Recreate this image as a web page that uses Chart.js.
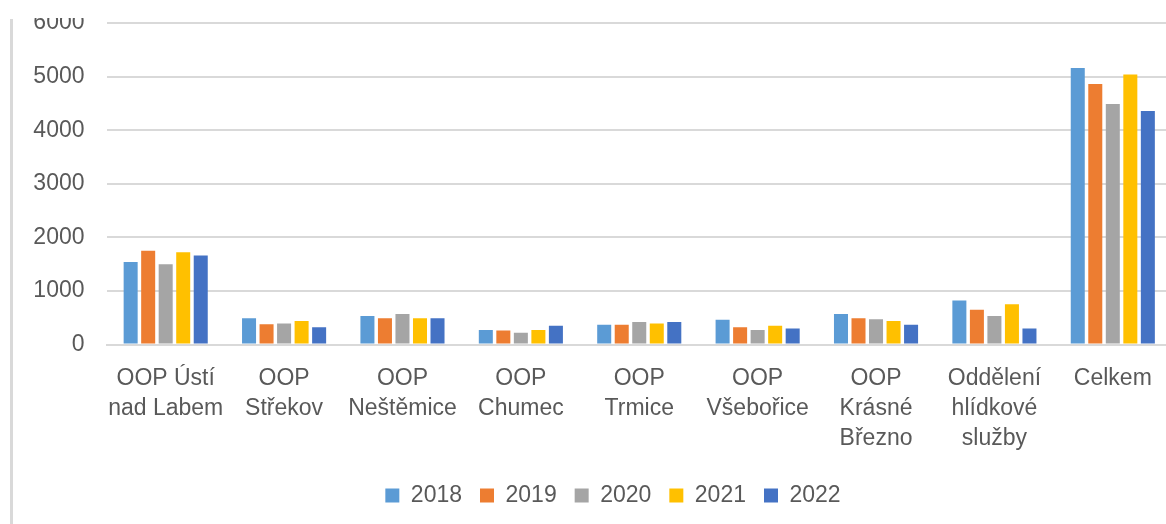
<!DOCTYPE html>
<html>
<head>
<meta charset="utf-8">
<script src="https://cdn.jsdelivr.net/npm/chart.js@4.4.1/dist/chart.umd.min.js"></script>
<style>
  html, body { margin: 0; padding: 0; background: #fff; width: 1166px; height: 524px; overflow: hidden; }
  #wrap { position: absolute; left: 0; top: 0; width: 1180px; height: 524px; }
  #border { position: absolute; left: 10px; top: 19px; width: 3px; height: 505px; background: #d9d9d9; }
</style>
</head>
<body>
<div id="wrap"><canvas id="c" width="1180" height="524"></canvas></div>
<div id="border"></div>
<script>
const categories = [
  ['OOP Ústí', 'nad Labem'],
  ['OOP', 'Střekov'],
  ['OOP', 'Neštěmice'],
  ['OOP', 'Chumec'],
  ['OOP', 'Trmice'],
  ['OOP', 'Všebořice'],
  ['OOP', 'Krásné', 'Březno'],
  ['Oddělení', 'hlídkové', 'služby'],
  ['Celkem']
];
const years = ['2018', '2019', '2020', '2021', '2022'];
const v2018 = [1540, 490, 530, 270, 370, 460, 570, 820, 5160];
const v2019 = [1750, 380, 490, 260, 370, 320, 490, 650, 4860];
const v2020 = [1500, 390, 570, 220, 420, 270, 470, 530, 4490];
const v2021 = [1720, 440, 490, 270, 390, 350, 440, 750, 5040];
const v2022 = [1660, 320, 490, 350, 420, 300, 370, 300, 4360];
const yTicks = [0, 1000, 2000, 3000, 4000, 5000, 6000];

const seriesValues = [v2018, v2019, v2020, v2021, v2022];
const colors = ['#5B9BD5', '#ED7D31', '#A5A5A5', '#FFC000', '#4472C4'];
const FONT = 'Liberation Sans, Arial, sans-serif';
const TXT = '#595959';

const tweaks = {
  id: 'tweaks',
  afterLayout(chart) {
    const lg = chart.legend;
    if (lg) { lg.left += 11; lg.right += 11; if (lg.adjustHitBoxes) lg.adjustHitBoxes(); }
  },
  afterDraw(chart) {
    const ctx = chart.ctx;
    ctx.save();
    ctx.fillStyle = '#fff';
    ctx.fillRect(0, 0, chart.width, 18);
    ctx.restore();
  }
};

new Chart(document.getElementById('c'), {
  type: 'bar',
  data: {
    labels: categories,
    datasets: years.map((y, i) => ({
      label: y,
      data: seriesValues[i],
      backgroundColor: colors[i],
      borderWidth: 0,
      categoryPercentage: 0.74,
      barPercentage: 0.8
    }))
  },
  options: {
    responsive: false,
    animation: false,
    devicePixelRatio: 1,
    layout: { padding: { left: 32, right: 8, top: 23, bottom: 7 } },
    plugins: {
      tooltip: { enabled: false },
      legend: {
        position: 'bottom',
        labels: {
          boxWidth: 14,
          boxHeight: 14,
          padding: 18,
          color: TXT,
          font: { family: FONT, size: 23 }
        }
      }
    },
    scales: {
      x: {
        grid: { display: false, drawTicks: false },
        border: { display: true, color: '#d9d9d9', width: 2 },
        ticks: {
          color: TXT,
          padding: 19,
          maxRotation: 0,
          autoSkip: false,
          font: { family: FONT, size: 23, lineHeight: 1.3 }
        },
        afterFit(axis) { axis.paddingLeft = 0; axis.paddingRight = 0; axis.height = 121.5; }
      },
      y: {
        min: 0,
        max: 6000,
        afterBuildTicks(axis) { axis.ticks = yTicks.map(v => ({ value: v })); },
        grid: { color: '#d9d9d9', lineWidth: 2, drawTicks: false },
        border: { display: false },
        ticks: {
          color: TXT,
          padding: 22,
          font: { family: FONT, size: 23 },
          callback: (v) => String(v)
        },
        afterFit(axis) { axis.paddingTop = 0; axis.paddingBottom = 0; axis.width = 74.5; }
      }
    }
  },
  plugins: [tweaks]
});
</script>
</body>
</html>
